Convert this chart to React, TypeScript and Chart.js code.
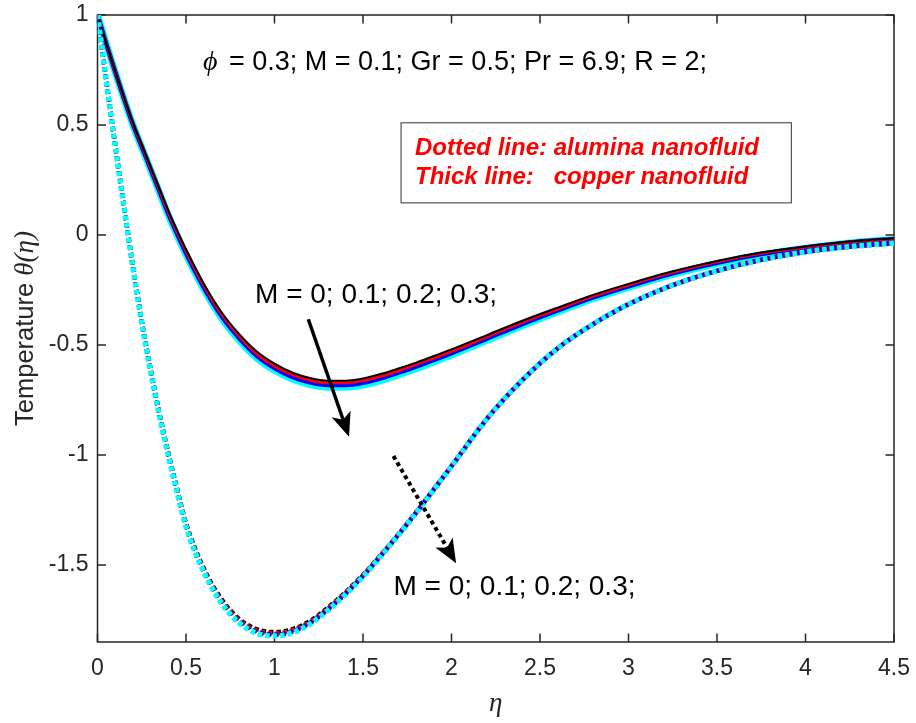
import React, { useEffect, useRef } from "react";
import { Chart, registerables } from "chart.js";

Chart.register(...registerables);

// ---------- data ----------
const eta = [0, 0.05, 0.1, 0.15, 0.2, 0.25, 0.3, 0.35, 0.4, 0.45, 0.5, 0.6, 0.7, 0.8, 0.9, 1.0, 1.1, 1.2, 1.3, 1.4, 1.5, 1.6, 1.7, 1.8, 1.9, 2.0, 2.2, 2.4, 2.6, 2.8, 3.0, 3.25, 3.5, 3.75, 4.0, 4.25, 4.5];

// copper nanofluid (thick lines)
const copperM0 = [1.0, 0.87, 0.745, 0.625, 0.51, 0.41, 0.31, 0.21, 0.11, 0.02, -0.065, -0.22, -0.35, -0.45, -0.53, -0.585, -0.625, -0.65, -0.662, -0.662, -0.652, -0.632, -0.607, -0.58, -0.55, -0.52, -0.455, -0.39, -0.33, -0.272, -0.222, -0.165, -0.118, -0.08, -0.052, -0.03, -0.015];
const copperM01 = [1.0, 0.869, 0.743, 0.622, 0.507, 0.406, 0.305, 0.204, 0.103, 0.013, -0.073, -0.229, -0.359, -0.459, -0.54, -0.595, -0.635, -0.66, -0.672, -0.672, -0.662, -0.642, -0.617, -0.589, -0.559, -0.529, -0.463, -0.397, -0.337, -0.278, -0.227, -0.17, -0.122, -0.083, -0.055, -0.032, -0.017];
const copperM02 = [1.0, 0.868, 0.742, 0.62, 0.503, 0.402, 0.3, 0.199, 0.097, 0.005, -0.082, -0.237, -0.368, -0.468, -0.549, -0.605, -0.645, -0.67, -0.682, -0.682, -0.672, -0.652, -0.626, -0.598, -0.568, -0.537, -0.471, -0.405, -0.343, -0.284, -0.233, -0.174, -0.126, -0.087, -0.057, -0.034, -0.018];
const copperM03 = [1.0, 0.867, 0.74, 0.617, 0.5, 0.398, 0.295, 0.193, 0.09, -0.002, -0.09, -0.246, -0.377, -0.478, -0.559, -0.615, -0.655, -0.68, -0.692, -0.692, -0.682, -0.662, -0.636, -0.608, -0.577, -0.546, -0.479, -0.412, -0.35, -0.29, -0.238, -0.179, -0.13, -0.09, -0.06, -0.036, -0.02];

// alumina nanofluid (dotted lines)
const aluminaM0 = [1.0, 0.70, 0.41, 0.13, -0.14, -0.39, -0.61, -0.81, -0.99, -1.155, -1.31, -1.515, -1.655, -1.745, -1.792, -1.805, -1.792, -1.755, -1.695, -1.625, -1.545, -1.455, -1.36, -1.26, -1.155, -1.05, -0.835, -0.66, -0.515, -0.405, -0.315, -0.228, -0.163, -0.113, -0.077, -0.053, -0.037];
const aluminaM01 = [1.0, 0.699, 0.409, 0.128, -0.143, -0.393, -0.614, -0.814, -0.995, -1.16, -1.315, -1.521, -1.661, -1.751, -1.798, -1.811, -1.797, -1.76, -1.699, -1.628, -1.548, -1.457, -1.362, -1.261, -1.156, -1.051, -0.835, -0.66, -0.515, -0.405, -0.315, -0.228, -0.163, -0.113, -0.077, -0.053, -0.037];
const aluminaM02 = [1.0, 0.699, 0.407, 0.126, -0.145, -0.397, -0.618, -0.819, -0.999, -1.165, -1.321, -1.526, -1.667, -1.757, -1.804, -1.817, -1.803, -1.764, -1.703, -1.632, -1.55, -1.459, -1.363, -1.263, -1.157, -1.051, -0.836, -0.66, -0.515, -0.405, -0.315, -0.228, -0.163, -0.113, -0.077, -0.053, -0.037];
const aluminaM03 = [1.0, 0.698, 0.406, 0.124, -0.148, -0.40, -0.622, -0.823, -1.004, -1.17, -1.326, -1.532, -1.673, -1.763, -1.81, -1.823, -1.808, -1.769, -1.707, -1.635, -1.553, -1.461, -1.365, -1.264, -1.158, -1.052, -0.836, -0.66, -0.515, -0.405, -0.315, -0.228, -0.163, -0.113, -0.077, -0.053, -0.037];

const xTicks = [0, 0.5, 1, 1.5, 2, 2.5, 3, 3.5, 4, 4.5];
const yTicks = [-1.5, -1, -0.5, 0, 0.5, 1];
const X_MIN = 0;
const X_MAX = 4.5;
const Y_MIN = -1.85;
const Y_MAX = 1;

// ---------- texts ----------
const PARAM_SYMBOL = "ϕ";
const PARAM_TEXT = " = 0.3; M = 0.1; Gr = 0.5; Pr = 6.9; R = 2;";
const LEGEND_LINE1 = "Dotted line: alumina nanofluid";
const LEGEND_LINE2 = "Thick line:   copper nanofluid";
const M_LABEL = "M = 0; 0.1; 0.2; 0.3;";
const Y_TITLE_TEXT = "Temperature ";
const Y_TITLE_MATH = "θ(η)";
const X_TITLE = "η";

const SANS = '"Liberation Sans", Arial, Helvetica, sans-serif';
const SERIF = '"Liberation Serif", "DejaVu Serif", serif';
const AXIS_COLOR = "#262626";

function pts(ys: number[]) {
  return eta.map((e, i) => ({ x: e, y: ys[i] }));
}

function thick(label: string, ys: number[], color: string, w: number) {
  return {
    label,
    data: pts(ys),
    borderColor: color,
    backgroundColor: color,
    borderWidth: w,
    pointRadius: 0,
    fill: false,
    cubicInterpolationMode: "monotone" as const,
    borderJoinStyle: "round" as const,
  };
}

function dotted(label: string, ys: number[], color: string, w: number) {
  return {
    label,
    data: pts(ys),
    borderColor: color,
    backgroundColor: color,
    borderWidth: w,
    borderDash: [4.5, 3],
    borderCapStyle: "butt" as const,
    pointRadius: 0,
    fill: false,
    cubicInterpolationMode: "monotone" as const,
  };
}

function drawArrow(ctx: CanvasRenderingContext2D, x0: number, y0: number, x1: number, y1: number, dashed: boolean) {
  const ang = Math.atan2(y1 - y0, x1 - x0);
  const ux = Math.cos(ang), uy = Math.sin(ang);
  const px = -uy, py = ux;
  const L = 24, W = 10, notch = 6;
  ctx.save();
  ctx.strokeStyle = "#000";
  ctx.fillStyle = "#000";
  ctx.lineWidth = dashed ? 4 : 3.5;
  ctx.lineCap = "butt";
  ctx.setLineDash(dashed ? [4, 3.5] : []);
  ctx.beginPath();
  ctx.moveTo(x0, y0);
  ctx.lineTo(x1 - ux * (L - notch), y1 - uy * (L - notch));
  ctx.stroke();
  ctx.setLineDash([]);
  const bx = x1 - ux * L, by = y1 - uy * L;
  ctx.beginPath();
  ctx.moveTo(x1, y1);
  ctx.lineTo(bx + px * W, by + py * W);
  ctx.lineTo(x1 - ux * (L - notch), y1 - uy * (L - notch));
  ctx.lineTo(bx - px * W, by - py * W);
  ctx.closePath();
  ctx.fill();
  ctx.restore();
}

const axesBox = {
  id: "axesBox",
  beforeDatasetsDraw(chart: any) {
    const { ctx, chartArea: a, scales } = chart;
    const x = scales.x, y = scales.y;
    ctx.save();
    ctx.strokeStyle = AXIS_COLOR;
    ctx.lineWidth = 1.5;
    ctx.strokeRect(a.left, a.top, a.right - a.left, a.bottom - a.top);
    const TL = 8.5;
    ctx.beginPath();
    for (const v of xTicks) {
      const p = x.getPixelForValue(v);
      ctx.moveTo(p, a.bottom);
      ctx.lineTo(p, a.bottom - TL);
      ctx.moveTo(p, a.top);
      ctx.lineTo(p, a.top + TL);
    }
    for (const v of yTicks) {
      const p = y.getPixelForValue(v);
      ctx.moveTo(a.left, p);
      ctx.lineTo(a.left + TL, p);
      ctx.moveTo(a.right, p);
      ctx.lineTo(a.right - TL, p);
    }
    ctx.stroke();
    ctx.restore();
  },
  afterDatasetsDraw(chart: any) {
    const { ctx, chartArea: a, scales } = chart;
    const x = scales.x, y = scales.y;
    const X = (v: number) => x.getPixelForValue(v);
    const Y = (v: number) => y.getPixelForValue(v);
    ctx.save();
    ctx.textBaseline = "alphabetic";
    ctx.textAlign = "left";

    // parameter line
    ctx.fillStyle = "#000";
    let cx = X(0.596);
    const by = Y(0.75);
    ctx.font = `italic 28px ${SERIF}`;
    ctx.fillText(PARAM_SYMBOL, cx, by);
    cx += Math.max(ctx.measureText(PARAM_SYMBOL).width, 18.5);
    ctx.font = `27px ${SANS}`;
    ctx.fillText(PARAM_TEXT, cx, by);

    // legend box
    const lx0 = X(1.715), lx1 = X(3.92), ly0 = Y(0.51), ly1 = Y(0.146);
    ctx.fillStyle = "#fff";
    ctx.fillRect(lx0, ly0, lx1 - lx0, ly1 - ly0);
    ctx.strokeStyle = "#333";
    ctx.lineWidth = 1;
    ctx.strokeRect(lx0, ly0, lx1 - lx0, ly1 - ly0);
    ctx.fillStyle = "#ff0000";
    ctx.font = `italic bold 24px ${SANS}`;
    ctx.fillText(LEGEND_LINE1, X(1.794), Y(0.364));
    ctx.fillText(LEGEND_LINE2, X(1.794), Y(0.232));

    // M labels
    ctx.fillStyle = "#000";
    ctx.font = `28px ${SANS}`;
    ctx.fillText(M_LABEL, X(0.89), Y(-0.31));
    ctx.fillText(M_LABEL, X(1.672), Y(-1.636));

    // arrows
    drawArrow(ctx, X(1.191), Y(-0.383), X(1.421), Y(-0.917), false);
    drawArrow(ctx, X(1.672), Y(-1.005), X(2.026), Y(-1.492), true);

    // x title
    ctx.fillStyle = AXIS_COLOR;
    ctx.font = `italic 27px ${SERIF}`;
    ctx.textAlign = "center";
    ctx.fillText(X_TITLE, (a.left + a.right) / 2, 711);

    // y title (rotated)
    ctx.textAlign = "left";
    const f1 = `25.5px ${SANS}`;
    const f2 = `italic 27px ${SERIF}`;
    ctx.font = f1;
    const w1 = ctx.measureText(Y_TITLE_TEXT).width;
    ctx.font = f2;
    const w2 = ctx.measureText(Y_TITLE_MATH).width;
    const total = w1 + w2;
    ctx.translate(33, (a.top + a.bottom) / 2);
    ctx.rotate(-Math.PI / 2);
    ctx.font = f1;
    ctx.fillText(Y_TITLE_TEXT, -total / 2, 0);
    ctx.font = f2;
    ctx.fillText(Y_TITLE_MATH, -total / 2 + w1, 0);
    ctx.restore();
  },
};

export default function App() {
  const ref = useRef<HTMLCanvasElement | null>(null);
  useEffect(() => {
    if (!ref.current) return;
    const chart = new Chart(ref.current, {
      type: "line",
      data: {
        datasets: [
          dotted("Al M=0.3", aluminaM03, "#00ffff", 5.5),
          dotted("Al M=0.2", aluminaM02, "#0000ff", 4.5),
          dotted("Al M=0.1", aluminaM01, "#ff0000", 4.5),
          dotted("Al M=0", aluminaM0, "#000000", 4.5),
          thick("Cu M=0", copperM0, "#000000", 2),
          thick("Cu M=0.1", copperM01, "#ff0000", 3),
          thick("Cu M=0.2", copperM02, "#0000ff", 4.5),
          thick("Cu M=0.3", copperM03, "#00ffff", 7),
        ] as any,
      },
      options: {
        animation: false,
        responsive: false,
        devicePixelRatio: 1,
        events: [],
        layout: { padding: { left: 0, top: 15, right: 22, bottom: 0 } },
        plugins: { legend: { display: false }, tooltip: { enabled: false }, title: { display: false } },
        scales: {
          x: {
            type: "linear",
            min: X_MIN,
            max: X_MAX,
            grid: { display: false, drawTicks: true, tickLength: 13 },
            border: { display: false },
            afterBuildTicks: (s: any) => {
              s.ticks = xTicks.map((v) => ({ value: v }));
            },
            afterFit: (s: any) => {
              s.height = 81;
            },
            ticks: {
              autoSkip: false,
              maxRotation: 0,
              padding: 0,
              color: AXIS_COLOR,
              font: { family: SANS, size: 23 },
              callback: (v: any) => String(v),
            },
          },
          y: {
            type: "linear",
            min: Y_MIN,
            max: Y_MAX,
            grid: { display: false, drawTicks: true, tickLength: 9 },
            border: { display: false },
            afterBuildTicks: (s: any) => {
              s.ticks = yTicks.map((v) => ({ value: v }));
            },
            afterFit: (s: any) => {
              s.width = 97.5;
            },
            ticks: {
              autoSkip: false,
              padding: 0,
              color: AXIS_COLOR,
              font: { family: SANS, size: 23 },
              callback: (v: any) => String(v),
            },
          },
        },
      } as any,
      plugins: [axesBox],
    });
    return () => chart.destroy();
  }, []);
  return (
    <div style={{ position: "absolute", left: 0, top: 0, width: 916, height: 723, background: "#fff" }}>
      <canvas ref={ref} width={916} height={723} style={{ display: "block" }} />
    </div>
  );
}
